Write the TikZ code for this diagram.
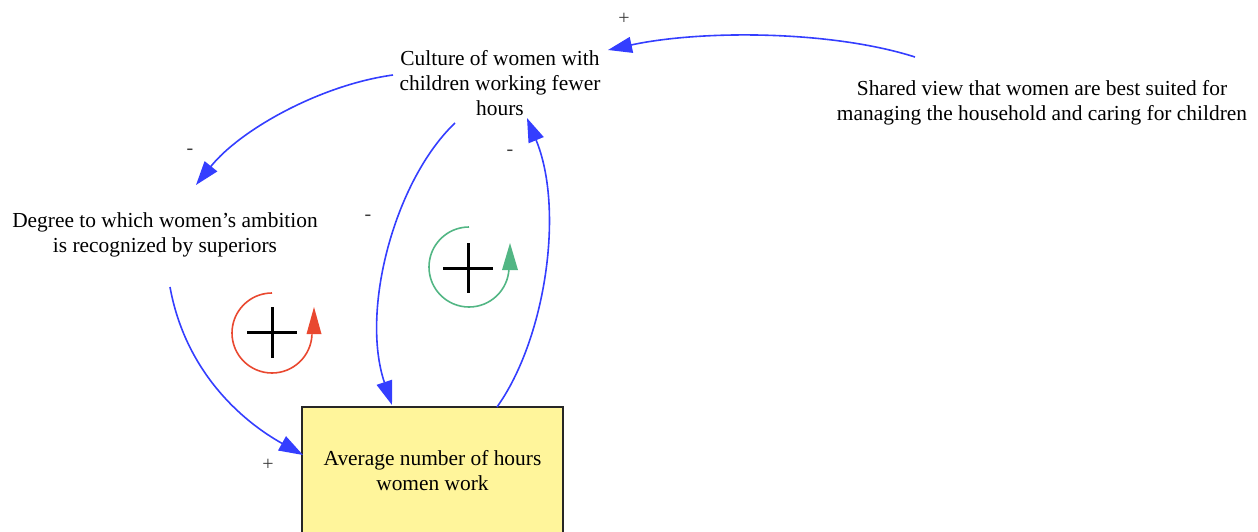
\documentclass[tikz,border=0pt]{standalone}
\usepackage{fontspec}
\setmainfont{Liberation Serif}
\usetikzlibrary{arrows.meta,calc}

\definecolor{linkblue}{RGB}{52,62,255}
\definecolor{loopred}{RGB}{233,72,48}
\definecolor{loopgreen}{RGB}{82,182,132}
\definecolor{stockfill}{RGB}{255,245,155}
\definecolor{signgray}{RGB}{60,60,60}

\tikzset{
  varlabel/.style={align=center, inner sep=0pt, font=\fontsize{10.7}{12.5}\selectfont},
  stockbox/.style={draw=black!85, line width=0.75pt, fill=stockfill, inner sep=0pt,
    minimum width=130.5pt, minimum height=64pt, align=center,
    font=\fontsize{10.7}{12.5}\selectfont},
  link/.style={draw=linkblue, line width=0.8pt, -{Triangle[length=12pt,width=8pt]}},
  polarity/.style={text=signgray, font=\fontsize{10}{10}\selectfont, inner sep=0pt},
  loopring/.style={line width=0.8pt},
  loopcross/.style={line width=1.5pt, draw=black},
}

\begin{document}
\begin{tikzpicture}[x=0.5pt, y=-0.5pt]
  \clip (0,0) rectangle (1258,531);

  % variables
  \node[varlabel] (culture) at (500,83) {Culture of women with\\children working fewer\\hours};
  \node[varlabel] (shared) at (1042,103) {Shared view that women are best suited for\\managing the household and caring for children};
  \node[varlabel] (degree) at (165,235) {Degree to which women's ambition\\is recognized by superiors};
  \node[stockbox] (hours) at (432.5,471) {Average number of hours\\women work};

  % causal links
  \draw[link] ($(shared.center)+(-127,-46)$) .. controls (830,30) and (700,30) .. ($(culture.center)+(108,-33)$);
  \draw[link] ($(culture.center)+(-107,-8)$) .. controls (320,85) and (240,130) .. ($(degree.center)+(31,-50)$);
  \draw[link] ($(culture.center)+(-45,40)$) .. controls (395,180) and (360,310) .. ($(hours.center)+(-40.5,-66)$);
  \draw[link] ($(hours.center)+(64.5,-64)$) .. controls (545,340) and (565,210) .. ($(culture.center)+(27,35)$);
  \draw[link] ($(degree.center)+(5,52)$) .. controls (185,370) and (240,420) .. ($(hours.center)+(-129.5,-16)$);

  % link polarities
  \node[polarity] (p1) at (624,19) {+};
  \node[polarity] (p2) at (190,152) {-};
  \node[polarity] (p3) at (368,218) {-};
  \node[polarity] (p4) at (510,153) {-};
  \node[polarity] (p5) at (268,465) {+};

  % reinforcing loop markers
  \begin{scope}[shift={(272,333)}, y=0.5pt]
    \draw[loopring, loopred] (0,40) arc[start angle=90, end angle=358, radius=40];
    \fill[loopred] (34.5,-1) -- (49.5,-1) -- (42,26) -- cycle;
    \draw[loopcross] (-25,1) -- (25,1);
    \draw[loopcross] (0,26) -- (0,-25);
  \end{scope}
  \begin{scope}[shift={(468,269)}, y=0.5pt]
    \draw[loopring, loopgreen] (1,42) arc[start angle=90, end angle=358, radius=40];
    \fill[loopgreen] (34,-1) -- (50,-1) -- (42,26) -- cycle;
    \draw[loopcross] (-25,1) -- (25,1);
    \draw[loopcross] (0,26) -- (0,-24);
  \end{scope}
\end{tikzpicture}
\end{document}
